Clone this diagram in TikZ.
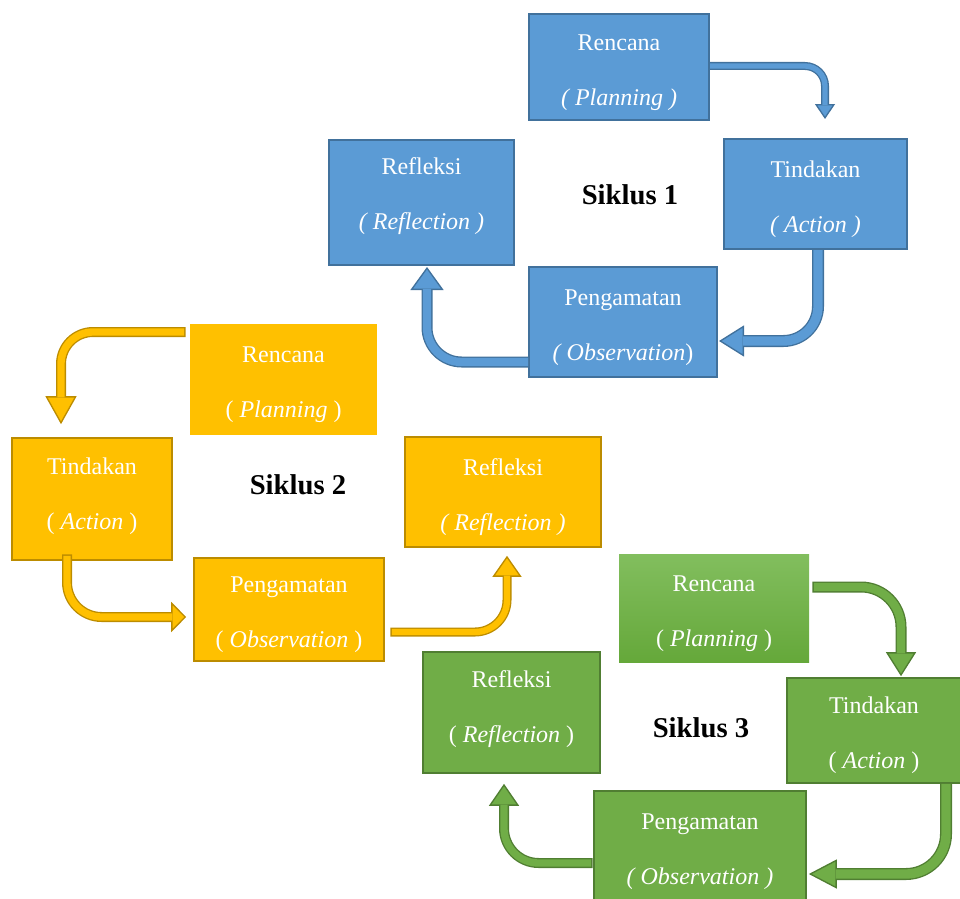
\documentclass[tikz,border=0pt]{standalone}
\usepackage{fontspec}
\setmainfont{Liberation Serif}
\usetikzlibrary{arrows.meta}
\definecolor{bfill}{HTML}{5B9BD5}
\definecolor{bline}{HTML}{41719C}
\definecolor{yfill}{HTML}{FFC000}
\definecolor{yline}{HTML}{BC8C00}
\definecolor{gfill}{HTML}{70AD47}
\definecolor{gline}{HTML}{507E32}
\definecolor{gtop}{HTML}{82BE5E}
\definecolor{gbot}{HTML}{65A83A}
\tikzset{
 kotak/.style={text=white, align=center, inner sep=0pt, text height=61pt, font=\fontsize{18}{41}\selectfont},
 biru/.style={kotak, fill=bfill, draw=bline, line width=1.5pt},
 kuning/.style={kotak, fill=yfill, draw=yline, line width=1.2pt},
 hijau/.style={kotak, fill=gfill, draw=gline, line width=1.2pt},
 judul/.style={font=\bfseries\fontsize{21.5}{26}\selectfont},
 % #1 isi, #2 garis, #3 lebar batang, #4 panjang kepala, #5 lebar kepala
 pipa/.style n args={5}{draw=#1, line width=#3, shorten >=#4-0.8pt,
   preaction={draw=#2, line width=#3+2pt, shorten <=-1pt, shorten >=0pt,
     -{Triangle[length=#4, width=#5, line width'=1pt, fill=#1]}}},
}
\begin{document}
\begin{tikzpicture}[x=0.75pt,y=-0.75pt]
\useasboundingbox (0,0) rectangle (960,899);
\clip (0,0) rectangle (960,899);
% Siklus 1
\node[biru, minimum width=135pt, minimum height=79.5pt] (br) at (619,67) {Rencana\\\textit{( Planning )}};
\node[biru, minimum width=137.25pt, minimum height=82.5pt] (bt) at (815.5,194) {Tindakan\\\textit{( Action )}};
\node[biru, minimum width=138.75pt, minimum height=93.75pt, text depth=21pt] (bf) at (421.5,202.5) {Refleksi\\\textit{( Reflection )}};
\node[biru, minimum width=141pt, minimum height=82.5pt] (bp) at (623,322) {Pengamatan\\\textit{( Observation})};
\node[judul] (s1) at (630,195) {Siklus 1};
% Siklus 2
\node[kuning, draw=yfill, minimum width=138.75pt, minimum height=81.75pt] (yr) at (283.5,379.5) {Rencana\\( \textit{Planning} )};
\node[kuning, minimum width=120pt, minimum height=91.5pt, text depth=15.5pt] (yt) at (92,499) {Tindakan\\( \textit{Action} )};
\node[kuning, minimum width=142.5pt, minimum height=77.25pt] (yp) at (289,609.5) {Pengamatan\\( \textit{Observation} )};
\node[kuning, minimum width=147pt, minimum height=82.5pt] (yf) at (503,492) {Refleksi\\\textit{( Reflection )}};
\node[judul] (s2) at (298,485) {Siklus 2};
% Siklus 3
\node[hijau, draw=none, top color=gtop, bottom color=gbot, minimum width=142.5pt, minimum height=81pt] (gr) at (714,608) {Rencana\\( \textit{Planning} )};
\node[hijau, minimum width=130.5pt, minimum height=78.75pt] (gt) at (874,730.5) {Tindakan\\( \textit{Action} )};
\node[hijau, minimum width=132.75pt, minimum height=90.75pt, text depth=16.5pt] (gf) at (511.5,712.5) {Refleksi\\( \textit{Reflection} )};
\node[hijau, minimum width=159pt, minimum height=83.25pt] (gp) at (700,846.5) {Pengamatan\\\textit{( Observation )}};
\node[judul] (s3) at (701,728) {Siklus 3};
% panah siklus 1
\draw[pipa={bfill}{bline}{4pt}{11.25pt}{15pt}, rounded corners=15pt] ([shift={(0,-1)}]br.east) -| ([shift={(9.5,-19)}]bt.north);
\draw[pipa={bfill}{bline}{7pt}{18.75pt}{23.25pt}, rounded corners=26pt] ([shift={(2.5,0)}]bt.south) |- ([shift={(1,19)}]bp.east);
\draw[pipa={bfill}{bline}{6.25pt}{17.25pt}{24.75pt}, rounded corners=26pt] ([shift={(0,40)}]bp.west) -| ([shift={(5.5,1)}]bf.south);
% panah siklus 2
\draw[pipa={yfill}{yline}{5.5pt}{21pt}{23.25pt}, rounded corners=24pt] ([shift={(-6,-47.5)}]yr.west) -| ([shift={(-31,-13)}]yt.north);
\draw[pipa={yfill}{yline}{5.5pt}{11.25pt}{22.5pt}, rounded corners=26pt] ([shift={(-25,-5)}]yt.south) |- ([shift={(-7,7.5)}]yp.west);
\draw[pipa={yfill}{yline}{4.75pt}{15.75pt}{21.75pt}, rounded corners=24pt] ([shift={(7,22.5)}]yp.east) -| ([shift={(4,8)}]yf.south);
% panah siklus 3
\draw[pipa={gfill}{gline}{6.25pt}{18pt}{22.5pt}, rounded corners=30pt] ([shift={(4,-21)}]gr.east) -| ([shift={(27,-1)}]gt.north);
\draw[pipa={gfill}{gline}{7pt}{21pt}{21.75pt}, rounded corners=30pt] ([shift={(72,0)}]gt.south) |- ([shift={(2,27.5)}]gp.east);
\draw[pipa={gfill}{gline}{5.5pt}{16.5pt}{22.5pt}, rounded corners=26pt] ([shift={(-2,16.5)}]gp.west) -| ([shift={(-7.5,10)}]gf.south);
\end{tikzpicture}
\end{document}
